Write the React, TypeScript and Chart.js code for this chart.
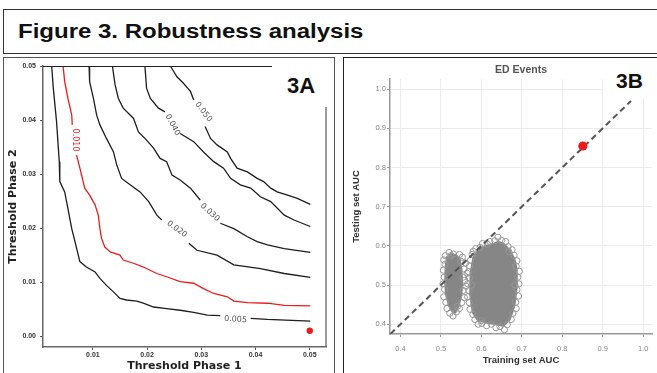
import React, { useEffect, useRef } from "react";
import { Chart, registerables } from "chart.js";
Chart.register(...registerables);

// ---------- Text ----------
const figureTitle = "Figure 3. Robustness analysis";
const panelALabel = "3A";
const panelBLabel = "3B";
const panelAXTitle = "Threshold Phase 1";
const panelAYTitle = "Threshold Phase 2";
const panelBTitle = "ED Events";
const panelBXTitle = "Training set AUC";
const panelBYTitle = "Testing set AUC";

// ---------- Panel A data (contour lines, segments split at the inline labels) ----------
const thresholdXTicks = [0.01, 0.02, 0.03, 0.04, 0.05];
const thresholdYTicks = [0.0, 0.01, 0.02, 0.03, 0.04, 0.05];

const contour005 = [
  [[0.0024,0.05],[0.0027,0.0459],[0.0033,0.0397],[0.0038,0.0323],[0.0039,0.0286],[0.0048,0.0267],[0.0054,0.0236],[0.0061,0.0199],[0.0067,0.0175],[0.0076,0.0138],[0.0088,0.0128],[0.0104,0.0119],[0.0113,0.0107],[0.0125,0.0094],[0.0138,0.0082],[0.015,0.007],[0.0162,0.0067],[0.0181,0.0065],[0.0193,0.0061],[0.0212,0.0054],[0.0236,0.0051],[0.0261,0.0048],[0.0286,0.0044],[0.0311,0.0039],[0.0335,0.0038]],
  [[0.0391,0.0033],[0.0422,0.0031],[0.0501,0.0028]],
];
const contour010 = [
  [[0.0045,0.05],[0.0048,0.0471],[0.0054,0.044],[0.0061,0.0409],[0.0062,0.0391]],
  [[0.007,0.0335],[0.0076,0.0311],[0.0085,0.0274],[0.0094,0.0261],[0.0104,0.0243],[0.011,0.0224],[0.0113,0.0199],[0.0116,0.0181],[0.0122,0.0165],[0.0132,0.0156],[0.015,0.015],[0.0156,0.0141],[0.0175,0.0135],[0.0193,0.0128],[0.0218,0.0116],[0.0236,0.011],[0.0261,0.0101],[0.0286,0.0098],[0.0304,0.0088],[0.0323,0.0079],[0.0348,0.0073],[0.036,0.0065],[0.0385,0.0062],[0.0422,0.0061],[0.0453,0.0057],[0.0501,0.0056]],
];
const contour020 = [
  [[0.0093,0.05],[0.0094,0.0471],[0.0101,0.044],[0.0107,0.0409],[0.0113,0.0391],[0.0125,0.0366],[0.0138,0.0341],[0.0144,0.0317],[0.0153,0.0292],[0.0165,0.0283],[0.0187,0.0267],[0.0203,0.0249],[0.0218,0.0224],[0.0227,0.0215]],
  [[0.0277,0.0172],[0.0292,0.0159],[0.0329,0.015],[0.036,0.0132],[0.0409,0.0125],[0.0453,0.0116],[0.0501,0.0109]],
];
const contour030 = [
  [[0.0136,0.05],[0.0141,0.0465],[0.0147,0.044],[0.0156,0.0422],[0.0175,0.0403],[0.0184,0.0378],[0.0196,0.0366],[0.0212,0.0348],[0.0224,0.0329],[0.0236,0.0323],[0.0246,0.0298],[0.0261,0.0289],[0.028,0.0274],[0.0298,0.0252]],
  [[0.0335,0.0209],[0.036,0.0199],[0.0385,0.0184],[0.0403,0.0175],[0.0422,0.0169],[0.0453,0.0162],[0.0501,0.0155]],
];
const contour040 = [
  [[0.0196,0.05],[0.0199,0.0459],[0.0206,0.044],[0.0221,0.0422],[0.0233,0.0415]],
  [[0.0261,0.0375],[0.0286,0.036],[0.0304,0.0341],[0.0323,0.0323],[0.0341,0.0311],[0.0354,0.0292],[0.0372,0.028],[0.0391,0.0274],[0.0409,0.0258],[0.0428,0.0249],[0.0453,0.0224],[0.0471,0.0215],[0.0501,0.0203]],
];
const contour050 = [
  [[0.0243,0.05],[0.0255,0.048],[0.0267,0.0468],[0.028,0.0453],[0.0286,0.0437]],
  [[0.0307,0.0388],[0.0317,0.0366],[0.0329,0.0354],[0.0348,0.0341],[0.0354,0.0329],[0.0366,0.0311],[0.0385,0.0304],[0.0403,0.0292],[0.0415,0.0286],[0.0428,0.0274],[0.044,0.0267],[0.0459,0.0261],[0.0477,0.0255],[0.0501,0.0244]],
];
const contourLevels = ["0.005", "0.010", "0.020", "0.030", "0.040", "0.050"];
const contourLabelX = [0.0363, 0.0068, 0.0255, 0.0316, 0.0247, 0.0304];
const contourLabelY = [0.0031, 0.0363, 0.0198, 0.0229, 0.0391, 0.0415];
const contourLabelAngle = [4, 90, 36, 42, 62, 52];
const selectedThreshold = [0.05, 0.001];

// ---------- Panel B data ----------
const aucTicks = [0.4, 0.5, 0.6, 0.7, 0.8, 0.9, 1.0];
const diagonalLine = [[0.375, 0.375], [0.97, 0.97]];
const selectedModelAuc = [0.851, 0.855];
// dense cores of the two permutation clouds (outline)
const cloudCoreLeft = [[0.512,0.572],[0.524,0.582],[0.538,0.579],[0.548,0.568],[0.553,0.543],[0.555,0.509],[0.553,0.475],[0.546,0.445],[0.537,0.428],[0.527,0.430],[0.518,0.445],[0.510,0.475],[0.508,0.509],[0.509,0.543]];
const cloudCoreRight = [[0.578,0.572],[0.592,0.592],[0.610,0.602],[0.630,0.608],[0.642,0.614],[0.658,0.606],[0.672,0.590],[0.684,0.568],[0.690,0.540],[0.690,0.495],[0.684,0.445],[0.672,0.410],[0.655,0.393],[0.634,0.398],[0.610,0.402],[0.588,0.410],[0.576,0.430],[0.570,0.475],[0.571,0.530]];
// scattered open circles along the cloud edges
const cloudEdgeLeft = [[0.511,0.575],[0.520,0.583],[0.531,0.579],[0.546,0.578],[0.553,0.571],[0.561,0.556],[0.557,0.541],[0.565,0.530],[0.559,0.512],[0.562,0.497],[0.555,0.486],[0.558,0.468],[0.551,0.455],[0.546,0.440],[0.538,0.431],[0.530,0.421],[0.522,0.428],[0.515,0.440],[0.512,0.456],[0.507,0.470],[0.509,0.489],[0.505,0.503],[0.508,0.520],[0.506,0.538],[0.510,0.553],[0.507,0.564],[0.549,0.561],[0.555,0.520],[0.525,0.575],[0.541,0.446]];
const cloudEdgeRight = [[0.577,0.578],[0.586,0.593],[0.597,0.596],[0.603,0.606],[0.615,0.604],[0.621,0.611],[0.633,0.613],[0.641,0.622],[0.650,0.614],[0.660,0.611],[0.666,0.598],[0.676,0.590],[0.681,0.576],[0.688,0.562],[0.686,0.548],[0.694,0.535],[0.690,0.520],[0.693,0.503],[0.688,0.488],[0.692,0.472],[0.685,0.456],[0.686,0.440],[0.678,0.428],[0.674,0.412],[0.664,0.399],[0.657,0.386],[0.646,0.394],[0.636,0.391],[0.625,0.400],[0.613,0.396],[0.601,0.402],[0.592,0.400],[0.584,0.412],[0.579,0.425],[0.572,0.438],[0.570,0.455],[0.566,0.470],[0.569,0.486],[0.566,0.503],[0.570,0.518],[0.568,0.534],[0.571,0.549],[0.573,0.563],[0.580,0.586],[0.668,0.585],[0.683,0.500],[0.600,0.409],[0.576,0.500]];

const RED = "#ec1c1c";
const toXY = (arr: number[][]) => arr.map(([x, y]) => ({ x, y }));

function PanelA() {
  const ref = useRef<HTMLCanvasElement>(null);
  useEffect(() => {
    const contours = [contour005, contour010, contour020, contour030, contour040, contour050];
    const datasets: any[] = [];
    contours.forEach((segs, i) => {
      segs.forEach((seg) => {
        datasets.push({
          data: toXY(seg),
          showLine: true,
          pointRadius: 0,
          borderColor: i === 1 ? RED : "#1e1e1e",
          borderWidth: 1.3,
          tension: 0,
        });
      });
    });
    datasets.push({
      data: [{ x: selectedThreshold[0], y: selectedThreshold[1] }],
      pointRadius: 3.2,
      backgroundColor: RED,
      borderWidth: 0,
    });

    const labelPlugin = {
      id: "contourLabels",
      afterDatasetsDraw(chart: any) {
        const { ctx, scales } = chart;
        ctx.save();
        ctx.font = '8px "DejaVu Sans"';
        ctx.textAlign = "center";
        ctx.textBaseline = "middle";
        contourLevels.forEach((t, i) => {
          ctx.save();
          ctx.translate(scales.x.getPixelForValue(contourLabelX[i]), scales.y.getPixelForValue(contourLabelY[i]));
          ctx.rotate((contourLabelAngle[i] * Math.PI) / 180);
          ctx.fillStyle = i === 1 ? RED : "#555";
          ctx.fillText(t, 0, 0);
          ctx.restore();
        });
        ctx.restore();
      },
    };
    const framePlugin = {
      id: "frameA",
      afterDraw(chart: any) {
        const { ctx, chartArea } = chart;
        const { left, top, right, bottom } = chartArea;
        ctx.save();
        ctx.strokeStyle = "#222";
        ctx.lineWidth = 1;
        ctx.beginPath();
        ctx.moveTo(left, Math.round(top) + 0.5);
        ctx.lineTo(right, Math.round(top) + 0.5);
        ctx.stroke();
        ctx.strokeStyle = "#666";
        ctx.lineWidth = 1.3;
        ctx.beginPath();
        ctx.moveTo(right, top);
        ctx.lineTo(right, bottom);
        ctx.stroke();
        ctx.restore();
      },
    };

    const chart = new Chart(ref.current!, {
      type: "scatter",
      data: { datasets },
      plugins: [labelPlugin, framePlugin],
      options: {
        animation: false,
        responsive: false,
        events: [],
        layout: { padding: { left: 0, top: 66, right: 14, bottom: 0 } },
        plugins: { legend: { display: false }, tooltip: { enabled: false } },
        scales: {
          x: {
            type: "linear",
            min: 0.0008,
            max: 0.053,
            afterFit: (s: any) => { s.height = 26; },
            afterBuildTicks: (s: any) => { s.ticks = thresholdXTicks.map((v) => ({ value: v })); },
            ticks: {
              callback: (v: any) => Number(v).toFixed(2),
              font: { family: '"Liberation Sans"', size: 7, weight: "bold" },
              color: "#333",
              padding: 1,
              maxRotation: 0,
            },
            grid: { display: true, drawOnChartArea: false, drawTicks: true, tickLength: 3, tickColor: "#555" },
            border: { display: true, color: "#666", width: 1.5 },
            title: {
              display: true,
              text: panelAXTitle,
              font: { family: '"DejaVu Sans"', size: 11, weight: "bold" },
              color: "#222",
              padding: { top: 0, bottom: 0 },
            },
          },
          y: {
            type: "linear",
            min: -0.002,
            max: 0.05,
            afterFit: (s: any) => { s.width = 43; },
            afterBuildTicks: (s: any) => { s.ticks = thresholdYTicks.map((v) => ({ value: v })); },
            ticks: {
              callback: (v: any) => Number(v).toFixed(2),
              font: { family: '"Liberation Sans"', size: 7, weight: "bold" },
              color: "#333",
              padding: 4,
            },
            grid: { display: true, drawOnChartArea: false, drawTicks: true, tickLength: 3, tickColor: "#555" },
            border: { display: true, color: "#666", width: 1.5 },
            title: {
              display: true,
              text: panelAYTitle,
              font: { family: '"DejaVu Sans"', size: 11, weight: "bold" },
              color: "#222",
              padding: { top: 6.7, bottom: 0 },
            },
          },
        },
      } as any,
    });
    return () => chart.destroy();
  }, []);
  return (
    <canvas
      ref={ref}
      width={340}
      height={373}
      style={{ position: "absolute", left: 0, top: 0, width: 340, height: 373, display: "block" }}
    />
  );
}

function PanelB() {
  const ref = useRef<HTMLCanvasElement>(null);
  useEffect(() => {
    const cloudPlugin = {
      id: "cloudCore",
      beforeDatasetsDraw(chart: any) {
        const { ctx, scales, chartArea } = chart;
        ctx.save();
        ctx.beginPath();
        ctx.rect(chartArea.left, chartArea.top, chartArea.right - chartArea.left, chartArea.bottom - chartArea.top);
        ctx.clip();
        ctx.fillStyle = "#868686";
        [cloudCoreLeft, cloudCoreRight].forEach((poly) => {
          ctx.beginPath();
          poly.forEach(([x, y], i) => {
            const px = scales.x.getPixelForValue(x);
            const py = scales.y.getPixelForValue(y);
            if (i === 0) ctx.moveTo(px, py);
            else ctx.lineTo(px, py);
          });
          ctx.closePath();
          ctx.fill();
        });
        ctx.restore();
      },
    };
    const titlePlugin = {
      id: "edTitle",
      afterDraw(chart: any) {
        const { ctx, chartArea } = chart;
        ctx.save();
        ctx.font = 'bold 10.5px "Liberation Sans"';
        ctx.fillStyle = "#555";
        ctx.textAlign = "center";
        ctx.textBaseline = "middle";
        ctx.fillText(panelBTitle, (chartArea.left + chartArea.right) / 2, 70);
        ctx.restore();
      },
    };

    const chart = new Chart(ref.current!, {
      type: "scatter",
      data: {
        datasets: [
          {
            data: toXY([...cloudEdgeLeft, ...cloudEdgeRight]),
            pointRadius: 3.1,
            pointStyle: "circle",
            backgroundColor: "rgba(0,0,0,0)",
            borderColor: "#979797",
            borderWidth: 1,
            order: 3,
          },
          {
            data: toXY(diagonalLine),
            showLine: true,
            pointRadius: 0,
            borderColor: "#555",
            borderWidth: 2,
            borderDash: [6, 4],
            order: 1,
          },
          {
            data: [{ x: selectedModelAuc[0], y: selectedModelAuc[1] }],
            pointRadius: 4.6,
            backgroundColor: RED,
            borderWidth: 0,
            order: 0,
          },
        ],
      },
      plugins: [cloudPlugin, titlePlugin],
      options: {
        animation: false,
        responsive: false,
        events: [],
        layout: { padding: { left: 0, top: 79, right: 2, bottom: 0 } },
        plugins: { legend: { display: false }, tooltip: { enabled: false } },
        scales: {
          x: {
            type: "linear",
            min: 0.374,
            max: 1.022,
            afterFit: (s: any) => { s.height = 39; },
            afterBuildTicks: (s: any) => { s.ticks = aucTicks.map((v) => ({ value: v })); },
            ticks: {
              callback: (v: any) => Number(v).toFixed(1),
              font: { family: '"Liberation Sans"', size: 7.5 },
              color: "#888",
              padding: 7,
              maxRotation: 0,
            },
            grid: { color: "#ececec", lineWidth: 1, tickLength: 3, tickColor: "#999" },
            border: { display: true, color: "#999", width: 1.5 },
            title: {
              display: true,
              text: panelBXTitle,
              font: { family: '"Liberation Sans"', size: 9.5, weight: "bold" },
              color: "#333",
              padding: { top: 0, bottom: 7.3 },
            },
          },
          y: {
            type: "linear",
            min: 0.375,
            max: 1.026,
            afterFit: (s: any) => { s.width = 50; },
            afterBuildTicks: (s: any) => { s.ticks = aucTicks.map((v) => ({ value: v })); },
            ticks: {
              callback: (v: any) => Number(v).toFixed(1),
              font: { family: '"Liberation Sans"', size: 7.5 },
              color: "#888",
              padding: 1,
            },
            grid: { color: "#ececec", lineWidth: 1, tickLength: 3, tickColor: "#999" },
            border: { display: true, color: "#999", width: 1.5 },
            title: {
              display: true,
              text: panelBYTitle,
              font: { family: '"Liberation Sans"', size: 9.5, weight: "bold" },
              color: "#333",
              padding: { top: 11, bottom: 0 },
            },
          },
        },
      } as any,
    });
    return () => chart.destroy();
  }, []);
  return (
    <canvas
      ref={ref}
      width={317}
      height={373}
      style={{ position: "absolute", left: 340, top: 0, width: 317, height: 373, display: "block" }}
    />
  );
}

export default function App() {
  return (
    <div
      style={{
        position: "fixed",
        left: 0,
        top: 0,
        width: 657,
        height: 373,
        background: "#fff",
        overflow: "hidden",
      }}
    >
      <div style={{ position: "absolute", left: 3, top: 9, width: 700, height: 45, border: "1px solid #333", boxSizing: "border-box" }} />
      <div
        style={{
          position: "absolute",
          left: 18,
          top: 20.5,
          fontFamily: '"Liberation Sans", Arial, sans-serif',
          fontWeight: "bold",
          fontSize: 20,
          lineHeight: "20px",
          whiteSpace: "nowrap",
          color: "#111",
          transform: "scaleX(1.2)",
          transformOrigin: "left top",
        }}
      >
        {figureTitle}
      </div>
      <div style={{ position: "absolute", left: 3, top: 57, width: 332, height: 400, border: "1px solid #555", boxSizing: "border-box" }} />
      <div style={{ position: "absolute", left: 343, top: 57, width: 400, height: 400, border: "1px solid #222", boxSizing: "border-box" }} />
      <PanelA />
      <PanelB />
      <div style={{ position: "absolute", left: 272, top: 58, width: 61, height: 49, background: "#fff" }} />
      <div
        style={{
          position: "absolute",
          left: 287,
          top: 75.4,
          fontFamily: '"Liberation Sans", Arial, sans-serif',
          fontWeight: "bold",
          fontSize: 22,
          lineHeight: "22px",
          color: "#111",
        }}
      >
        {panelALabel}
      </div>
      <div style={{ position: "absolute", left: 603, top: 58, width: 60, height: 40, background: "#fff" }} />
      <div
        style={{
          position: "absolute",
          left: 616,
          top: 70.2,
          fontFamily: '"Liberation Sans", Arial, sans-serif',
          fontWeight: "bold",
          fontSize: 21,
          lineHeight: "21px",
          color: "#111",
        }}
      >
        {panelBLabel}
      </div>
    </div>
  );
}
